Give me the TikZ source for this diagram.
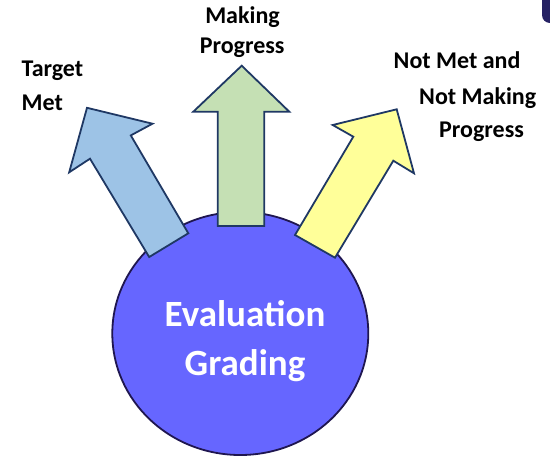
\documentclass[tikz,border=0pt]{standalone}
\usepackage{fontspec}
\setmainfont{Carlito}
\usetikzlibrary{shapes.geometric}
\definecolor{circfill}{HTML}{6666FF}
\definecolor{circline}{HTML}{1F1650}
\definecolor{arrline}{HTML}{1F3864}
\definecolor{bluefill}{HTML}{9DC3E6}
\definecolor{greenfill}{HTML}{C5E0B4}
\definecolor{yellowfill}{HTML}{FFFF99}
\definecolor{cornerfill}{HTML}{262264}
\tikzset{
  arrowshape/.style={draw=arrline, line width=1.8pt, line join=miter},
  lbl/.style={inner sep=0pt, font=\fontsize{24}{29}\selectfont\bfseries, text=black},
  centerlbl/.style={inner sep=0pt, font=\fontsize{37}{44}\selectfont\bfseries, text=white},
}
\begin{document}
\begin{tikzpicture}[x=1pt,y=-1pt]
\useasboundingbox (0,0) rectangle (550,459);
\clip (0,0) rectangle (550,459);
% corner shape
\fill[cornerfill, rounded corners=8pt] (542,-20) rectangle (570,23);
% circle
\node[draw=circline, fill=circfill, line width=1.8pt, ellipse, minimum width=256pt, minimum height=243pt, inner sep=0pt] (eval) at (240.3,333.5) {};
% arrows
\filldraw[arrowshape, fill=bluefill]
  (87,107.8) -- (152.5,123.7) -- (130.8,135.4) -- (188.3,233.3) -- (149.2,257) -- (90,158.7) -- (69.2,172.3) -- cycle;
\filldraw[arrowshape, fill=greenfill]
  (241.7,65.7) -- (289.3,111.7) -- (264.3,111.7) -- (264.3,226) -- (217.7,226) -- (217.7,111.7) -- (193.3,111.7) -- cycle;
\filldraw[arrowshape, fill=yellowfill]
  (396.7,109.3) -- (414,173.3) -- (393.3,160.7) -- (335,257.7) -- (295,235) -- (353.3,136.7) -- (332.7,125) -- cycle;
% labels
\node[lbl, anchor=base west] (t1) at (21.5,76.7) {Target};
\node[lbl, anchor=base west] (t2) at (21.5,110) {Met};
\node[lbl, anchor=base] (m1) at (242.5,23.3) {Making};
\node[lbl, anchor=base] (m2) at (242.2,53.3) {Progress};
\node[lbl, anchor=base west] (n1) at (393.5,68.3) {Not Met and};
\node[lbl, anchor=base west] (n2) at (419,104) {Not Making};
\node[lbl, anchor=base west] (n3) at (439,137.7) {Progress};
\node[centerlbl, anchor=base] (e1) at (245,326) {Evaluation};
\node[centerlbl, anchor=base] (e2) at (245,375) {Grading};
\end{tikzpicture}
\end{document}
